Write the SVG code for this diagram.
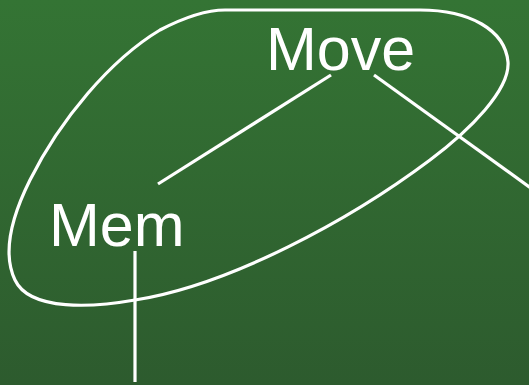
<svg xmlns="http://www.w3.org/2000/svg" width="529" height="385" viewBox="0 0 529 385">
<defs>
<linearGradient id="bg" x1="0" y1="0" x2="0" y2="1">
<stop offset="0" stop-color="#347434"/>
<stop offset="1" stop-color="#2d5b2e"/>
</linearGradient>
<style>
.ln{stroke:#fff;stroke-width:3.2;fill:none}
.lb{font-family:"Liberation Sans",Arial,sans-serif;font-size:61px;fill:#fff}
</style>
</defs>
<rect width="529" height="385" fill="url(#bg)"/>
<g id="loop">
<path class="ln" d="M225,10 L420,10 C470,10 505,30 508,62 C510,90 470,130 430,160 C350,220 230,285 135,300 C95,307 30,312 15,280 C3,255 10,220 30,180 C60,120 110,60 160,30 C185,17 205,10 225,10 Z"/>
</g>
<g id="move"><text class="lb" x="266" y="70">Move</text></g>
<g id="mem"><text class="lb" x="49" y="246">Mem</text></g>
<g id="connectors">
<line class="ln" x1="331" y1="75" x2="158" y2="184"/>
<line class="ln" x1="374" y1="75" x2="535" y2="191"/>
<line class="ln" x1="135" y1="251" x2="135" y2="382"/>
</g>
</svg>
